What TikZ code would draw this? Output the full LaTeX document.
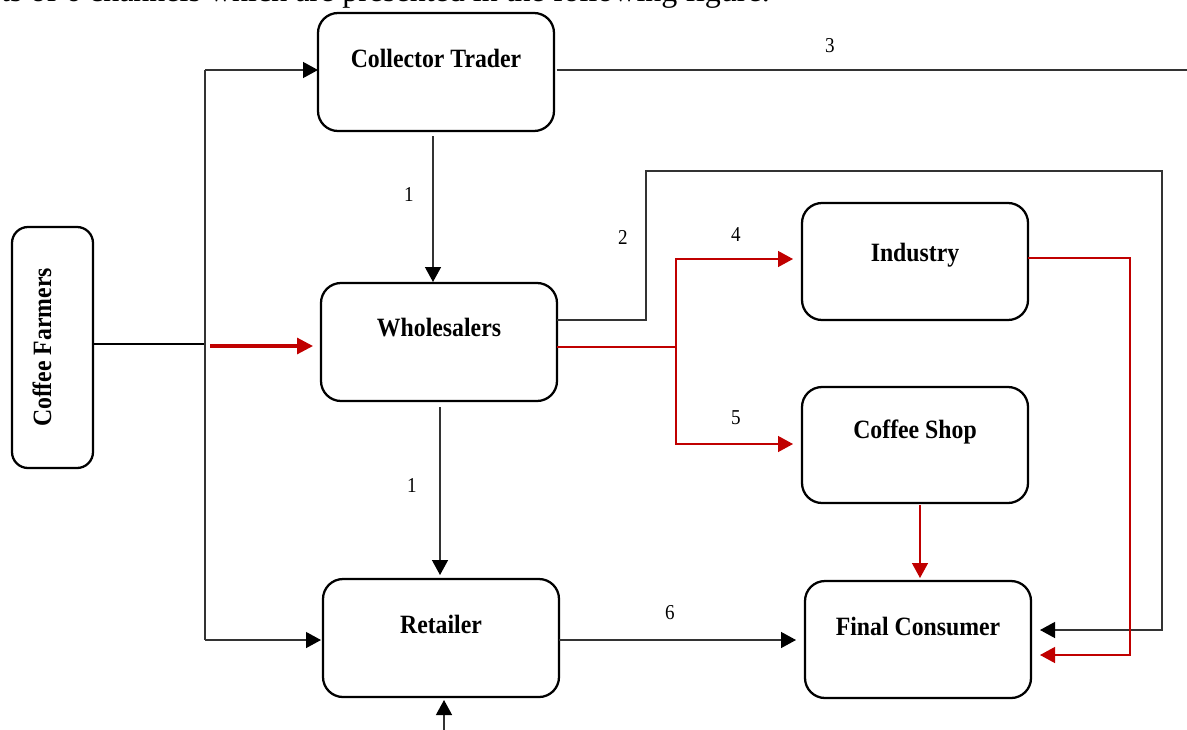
\documentclass[tikz,border=0pt]{standalone}
\usepackage{fontspec}
\setmainfont{Liberation Serif}
\usetikzlibrary{arrows.meta}
\definecolor{myred}{HTML}{C00000}
\definecolor{lgray}{HTML}{333333}
\newcommand{\cnd}[1]{\scalebox{0.9}[1]{#1}}
\begin{document}
\begin{tikzpicture}[x=0.75pt,y=-0.75pt,
  box/.style={draw=black,line width=1.7pt,rounded corners=15pt,minimum width=177pt,minimum height=88.5pt,inner sep=0pt,outer sep=0pt},
  conn/.style={line width=1pt,draw=lgray},
  arr/.style={conn,-{Triangle[length=11.25pt,width=12pt,color=black,fill=black]}},
  redln/.style={line width=1pt,draw=myred},
  redarr/.style={redln,-{Triangle[length=11.25pt,width=12pt]}},
  num/.style={font=\fontsize{15.9}{18}\selectfont,inner sep=0pt},
  lbl/.style={font=\bfseries\fontsize{19.8}{23}\selectfont,inner sep=0pt}
]
\useasboundingbox (0,0) rectangle (1187,729);
\fill[white] (0,0) rectangle (1187,729);

\node[anchor=base east,font=\fontsize{24}{28}\selectfont,inner sep=0pt] (toptext) at (770,1.5) {ts of 6 channels which are presented in the following figure.};

% boxes
\node[box] (ct) at (436,72) {};
\node[box] (wh) at (439,342) {};
\node[box] (rt) at (441,638) {};
\node[box,minimum width=169.5pt,minimum height=87.75pt] (ind) at (915,261.5) {};
\node[box,minimum width=169.5pt,minimum height=87pt] (cs) at (915,445) {};
\node[box,minimum width=169.5pt,minimum height=87.75pt] (fc) at (918,639.5) {};
\node[box,minimum width=60.75pt,minimum height=180.75pt,rounded corners=12pt] (cf) at (52.5,347.5) {};

% box labels
\node[lbl] (ctL) at ([yshift=10.5pt]ct.center) {\cnd{Collector Trader}};
\node[lbl] (whL) at ([yshift=10.9pt]wh.center) {\cnd{Wholesalers}};
\node[lbl] (rtL) at ([yshift=10.5pt]rt.center) {\cnd{Retailer}};
\node[lbl] (indL) at ([yshift=5pt]ind.center) {\cnd{Industry}};
\node[lbl] (csL) at ([yshift=10pt]cs.center) {\cnd{Coffee Shop}};
\node[lbl] (fcL) at ([yshift=10pt]fc.center) {\cnd{Final Consumer}};
\node[lbl,rotate=90] (cfL) at ([xshift=-7.9pt]cf.center) {\cnd{Coffee Farmers}};

% coordinates
\coordinate (j1) at (205,344);
\coordinate (jt) at (205,70);
\coordinate (jb) at (205,640);
\coordinate (r0) at (210,346);
\coordinate (ce) at (1195,70);
\coordinate (c2a) at (646,320);
\coordinate (c2b) at (646,171);
\coordinate (c2c) at (1162,171);
\coordinate (c2d) at (1162,630);
\coordinate (rb) at (676,347);
\coordinate (rbt) at (676,259);
\coordinate (rbb) at (676,444);
\coordinate (ia) at (1130,258);
\coordinate (ib) at (1130,655);
\coordinate (bt) at (444,735);
\coordinate (r6) at (560,640);

% connectors from farmers
\draw[line width=1.6pt,draw=black] (cf.east |- j1) -- (j1);
\draw[conn] (jt) -- (jb);
\draw[arr] (jt) -- (ct.west |- jt);
\draw[arr,shorten >=1.5pt] (jb) -- (rt.west |- jb);
\draw[line width=2.3pt,draw=myred,-{Triangle[length=12pt,width=12pt]},shorten >=6pt] (r0) -- (wh.west |- r0);

% channel 3
\draw[conn,shorten <=2pt] (ct.east |- ce) -- (ce);

% channel 1
\draw[arr,shorten <=3.75pt,shorten >=0.75pt] ([xshift=-2.25pt]ct.south) -- ([xshift=-2.25pt]ct.south |- wh.north);
\draw[arr,shorten <=4.5pt,shorten >=3pt] ([xshift=0.75pt]wh.south) -- ([xshift=0.75pt]wh.south |- rt.north);

% channel 2
\draw[arr,shorten >=6.75pt] (wh.east |- c2a) -- (c2a) -- (c2b) -- (c2c) -- (c2d) -- (fc.east |- c2d);

% channels 4 and 5
\draw[redln] (wh.east |- rb) -- (rb);
\draw[redarr,shorten >=6.75pt] (rb) -- (rbt) -- (ind.west |- rbt);
\draw[redarr,shorten >=6.75pt] (rb) -- (rbb) -- (cs.west |- rbb);
\draw[redarr,shorten >=6.75pt] (ind.east |- ia) -- (ia) -- (ib) -- (fc.east |- ib);
\draw[redarr,shorten <=1.5pt,shorten >=2.25pt] ([xshift=3.75pt]cs.south) -- ([xshift=3.75pt]cs.south |- fc.north);

% channel 6
\draw[arr,shorten >=6.75pt] (rt.east |- r6) -- (fc.west |- r6);

% bottom input
\draw[arr,shorten >=2.25pt] (bt) -- (bt |- rt.south);

% numbers
\node[num] (n3) at (830,46) {\cnd{3}};
\node[num] (n1a) at (409,194) {\cnd{1}};
\node[num] (n2) at (623,237) {\cnd{2}};
\node[num] (n4) at (736,235) {\cnd{4}};
\node[num] (n5) at (736,418) {\cnd{5}};
\node[num] (n1b) at (412,485) {\cnd{1}};
\node[num] (n6) at (670,613) {\cnd{6}};
\end{tikzpicture}
\end{document}
